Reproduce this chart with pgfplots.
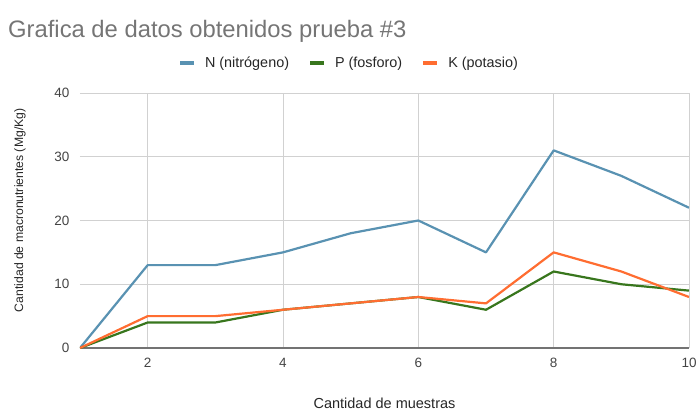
\documentclass[border=0pt]{standalone}
\usepackage{fontspec}
\setmainfont{Liberation Sans}
\usepackage{pgfplots}
\pgfplotsset{compat=1.18}
\definecolor{nblue}{RGB}{89,146,178}
\definecolor{pgreen}{RGB}{56,118,29}
\definecolor{korange}{RGB}{255,109,49}
\definecolor{titlegray}{RGB}{117,117,117}
\definecolor{ticklab}{RGB}{68,68,68}
\begin{document}
\begin{tikzpicture}
\begin{axis}[
  name=ax, scale only axis,
  width=609pt, height=255pt,
  xmin=1, xmax=10, ymin=0, ymax=40,
  xtick={2,4,6,8,10}, ytick={10,20,30,40},
  extra y ticks={0}, extra y tick labels={0},
  extra y tick style={grid style={draw=black!55, line width=1.3pt}},
  grid=major, grid style={draw=black!18, line width=0.9pt},
  axis line style={draw=none},
  major tick length=0pt,
  tick label style={font=\fontsize{13.5}{15}\selectfont, text=ticklab},
  /pgf/number format/assume math mode=true,
  xticklabel style={anchor=center, yshift=-15pt},
  yticklabel style={anchor=east, xshift=-7pt},
  xlabel={Cantidad de muestras},
  ylabel={Cantidad de macronutrientes (Mg/Kg)},
  xlabel style={font=\fontsize{14.5}{16}\selectfont, text=black!85, at={(axis description cs:0.5,-0.2157)}, anchor=center},
  ylabel style={font=\fontsize{12.2}{14}\selectfont, text=black!85, at={(axis description cs:-0.0985,0.54)}, anchor=center},
  legend columns=3,
  legend style={at={(0.4417,1.1176)}, anchor=center, draw=none, fill=none,
    font=\fontsize{14.4}{16}\selectfont, text=black!85,
    /tikz/every even column/.append style={column sep=17pt},
    /tikz/every odd column/.append style={column sep=7pt}},
  legend image code/.code={\draw[#1, line width=4pt] (0pt,0pt) -- (14pt,0pt);},
  every axis plot/.append style={line width=2.2pt, line join=round},
]
\addplot[nblue, no markers] coordinates {(1,0) (2,13) (3,13) (4,15) (5,18) (6,20) (7,15) (8,31) (9,27) (10,22)};
\addlegendentry{N (nitrógeno)}
\addplot[pgreen, no markers] coordinates {(1,0) (2,4) (3,4) (4,6) (5,7) (6,8) (7,6) (8,12) (9,10) (10,9)};
\addlegendentry{P (fosforo)}
\addplot[korange, no markers] coordinates {(1,0) (2,5) (3,5) (4,6) (5,7) (6,8) (7,7) (8,15) (9,12) (10,8)};
\addlegendentry{K (potasio)}
\end{axis}
\node[anchor=base west, text=titlegray, font=\fontsize{23.8}{26}\selectfont, inner sep=0] at ([shift={(-72pt,310pt)}]ax.south west) {Grafica de datos obtenidos prueba \#3};
\pgfresetboundingbox
\useasboundingbox ([shift={(-80pt,-62pt)}]ax.south west) rectangle ([shift={(618pt,348pt)}]ax.south west);
\end{tikzpicture}
\end{document}
